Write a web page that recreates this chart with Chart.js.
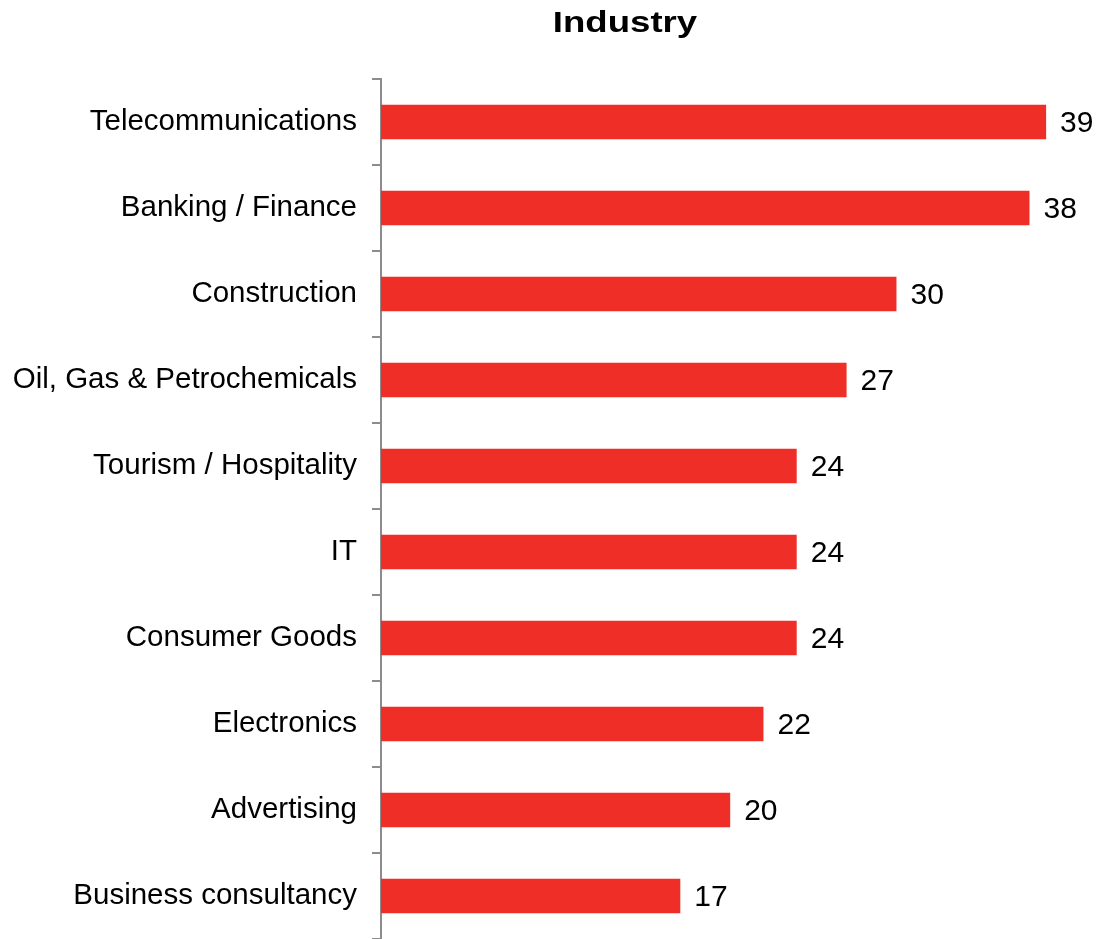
<!DOCTYPE html>
<html>
<head>
<meta charset="utf-8">
<title>Industry</title>
<script src="https://cdn.jsdelivr.net/npm/chart.js@4.4.1/dist/chart.umd.min.js"></script>
<style>
    html, body { margin: 0; padding: 0; background: #fff; }
    #wrap { width: 1096px; height: 939px; position: relative; }
</style>
</head>
<body>
<div id="wrap"><canvas id="industryChart"></canvas></div>
<script>
// --- dados ---
const industries = [
    'Telecommunications',
    'Banking / Finance',
    'Construction',
    'Oil, Gas & Petrochemicals',
    'Tourism / Hospitality',
    'IT',
    'Consumer Goods',
    'Electronics',
    'Advertising',
    'Business consultancy'
];
const counts = [39, 38, 30, 27, 24, 24, 24, 22, 20, 17];
const chartTitle = 'Industry';

const BAR_RED = 'rgb(238, 46, 39)';
const AXIS_GREY = '#8c8c8c';
const LABEL_FONT = '"Liberation Sans", Arial, sans-serif';

// Título desenhado à mão, um pouco esticado na horizontal
const titlePlugin = {
    id: 'industryTitle',
    afterDraw(chart) {
        const ctx = chart.ctx;
        ctx.save();
        ctx.translate(625, 32);
        ctx.scale(1.22, 1);
        ctx.font = 'bold 30px ' + LABEL_FONT;
        ctx.fillStyle = '#000';
        ctx.textAlign = 'center';
        ctx.textBaseline = 'alphabetic';
        ctx.fillText(chartTitle, 0, 0);
        ctx.restore();
    }
};

// Valores escritos à direita de cada barra
const valueLabels = {
    id: 'valueLabels',
    afterDatasetsDraw(chart) {
        const ctx = chart.ctx;
        const meta = chart.getDatasetMeta(0);
        ctx.save();
        ctx.font = '30px ' + LABEL_FONT;
        ctx.fillStyle = '#000';
        ctx.textAlign = 'left';
        ctx.textBaseline = 'middle';
        meta.data.forEach((bar, i) => {
            ctx.fillText(String(chart.data.datasets[0].data[i]), bar.x + 14, bar.y + 2);
        });
        ctx.restore();
    }
};

new Chart(document.getElementById('industryChart').getContext('2d'), {
    type: 'bar',
    data: {
        labels: industries,
        datasets: [{
            data: counts,
            backgroundColor: BAR_RED,
            borderWidth: 0,
            base: -1,
            barPercentage: 1,
            categoryPercentage: 0.4
        }]
    },
    options: {
        indexAxis: 'y',
        responsive: true,
        maintainAspectRatio: false,
        animation: false,
        layout: { padding: { top: 79, right: 0, bottom: 0, left: 0 } },
        plugins: {
            legend: { display: false },
            title: { display: false },
            tooltip: { enabled: false }
        },
        scales: {
            x: {
                display: false,
                min: -1,
                max: 42
            },
            y: {
                afterFit(scale) {
                    // largura fixa e sem folga em cima/embaixo
                    scale.width = 381;
                    scale.paddingTop = 0;
                    scale.paddingBottom = 0;
                },
                grid: {
                    offset: true,
                    drawOnChartArea: false,
                    drawTicks: true,
                    tickLength: 9,
                    color: AXIS_GREY,
                    lineWidth: 2
                },
                border: { display: true, color: AXIS_GREY, width: 2 },
                ticks: {
                    color: '#000',
                    padding: 15,
                    font: { family: LABEL_FONT, size: 29.5 }
                }
            }
        }
    },
    plugins: [titlePlugin, valueLabels]
});
</script>
</body>
</html>
